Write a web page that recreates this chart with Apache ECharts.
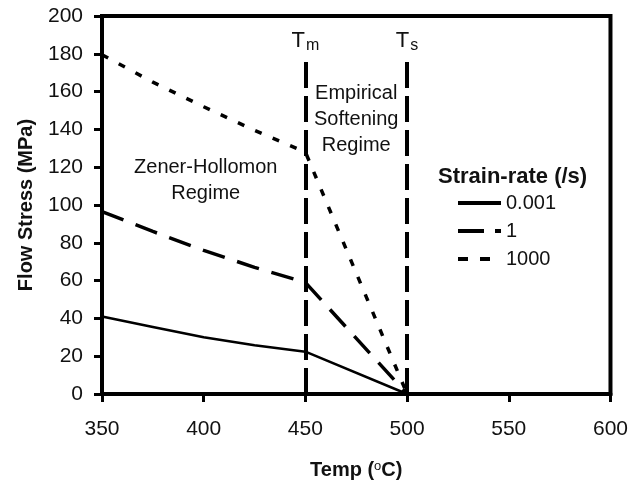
<!DOCTYPE html>
<html>
<head>
<meta charset="utf-8">
<title>Flow Stress vs Temperature</title>
<script src="https://cdn.jsdelivr.net/npm/echarts@6/dist/echarts.min.js"></script>
<style>
  html, body { margin: 0; padding: 0; background: #fff; }
  #chart { width: 631px; height: 486px; }
</style>
</head>
<body>
<div id="chart"></div>
<script>
// Temperatures (°C) at which flow stress is given
const temps = [350, 375, 400, 425, 450, 500];

// Flow stress (MPa) for each strain rate
const stressLow = [41, 35.5, 30, 25.8, 22.4, 0];      // 0.001 /s
const stressMid = [96.5, 86, 76, 67, 59, 0];          // 1 /s
const stressHigh = [179.5, 165, 152, 139.5, 128, 0];  // 1000 /s

const seriesNames = ['0.001', '1', '1000'];

// Legend key dash patterns (drawn heavier than the plotted lines)
const legendDash = ['solid', [26, 11], [10, 12]];

// Regime boundaries: Tm and Ts
const boundaryTemps = [450, 500];
const boundarySubs = ['m', 's'];
const boundaryTop = 178;

// Regime annotations (temperature, stress, text)
const regimeX = [401, 475];
const regimeY = [113, 145.5];
const regimeText = ['Zener-Hollomon\nRegime', 'Empirical\nSoftening\nRegime'];

const font = '"Liberation Sans", Arial, sans-serif';
const ink = '#111';

function pairs(xs, ys) {
  return xs.map((x, i) => [x, ys[i]]);
}

const boundaryLines = boundaryTemps.map((t, i) => [
  { coord: [t, 0] },
  { coord: [t, boundaryTop], label: { formatter: '{t|T}{s|' + boundarySubs[i] + '}' } }
]);

const chart = echarts.init(document.getElementById('chart'), null, { renderer: 'canvas' });

chart.setOption({
  animation: false,
  backgroundColor: '#fff',
  textStyle: { fontFamily: font },
  grid: {
    left: 102, right: 19, top: 16, bottom: 92,
    show: true, borderColor: '#000', borderWidth: 4, backgroundColor: 'transparent'
  },
  title: {
    text: 'Strain-rate (/s)',
    left: 433, top: 161,
    textStyle: { fontFamily: font, fontSize: 22, fontWeight: 'bold', color: ink }
  },
  legend: {
    data: seriesNames.map((n, i) => ({
      name: n,
      itemStyle: { opacity: 0 },
      lineStyle: { width: 4, color: '#000', type: legendDash[i] }
    })),
    orient: 'vertical',
    left: 451, top: 188,
    itemWidth: 43, itemHeight: 14, itemGap: 8,
    textStyle: { fontFamily: font, fontSize: 20, color: ink, lineHeight: 20 }
  },
  xAxis: {
    type: 'value',
    min: 350, max: 600, interval: 50,
    name: 'Temp ({sup|o}C)',
    nameLocation: 'middle',
    nameGap: 66,
    nameTextStyle: {
      fontFamily: font, fontSize: 20, fontWeight: 'bold', color: ink,
      rich: { sup: { fontSize: 13, fontWeight: 'normal', color: ink, verticalAlign: 'top', padding: [0, 0, 8, 0] } }
    },
    axisLine: { show: true, lineStyle: { color: '#000', width: 4 } },
    axisTick: { show: true, inside: false, length: 8, lineStyle: { color: '#000', width: 3 } },
    axisLabel: { fontFamily: font, fontSize: 21, color: ink, margin: 25 },
    splitLine: { show: false }
  },
  yAxis: {
    type: 'value',
    min: 0, max: 200, interval: 20,
    name: 'Flow Stress (MPa)',
    nameLocation: 'middle',
    nameGap: 66,
    nameTextStyle: { fontFamily: font, fontSize: 20, fontWeight: 'bold', color: ink },
    axisLine: { show: true, lineStyle: { color: '#000', width: 4 } },
    axisTick: { show: true, inside: false, length: 8, lineStyle: { color: '#000', width: 3 } },
    axisLabel: { fontFamily: font, fontSize: 21, color: ink, margin: 19 },
    splitLine: { show: false }
  },
  series: [
    {
      name: seriesNames[0],
      type: 'line',
      data: pairs(temps, stressLow),
      symbol: 'none',
      lineStyle: { color: '#000', width: 2.5, type: 'solid' },
      itemStyle: { color: '#000' },
      markLine: {
        silent: true,
        symbol: ['none', 'none'],
        lineStyle: { color: '#000', width: 4, type: [26, 8] },
        label: {
          show: true,
          position: 'end',
          distance: 4,
          color: ink,
          rich: {
            t: { fontFamily: font, fontSize: 22, color: ink },
            s: { fontFamily: font, fontSize: 16, color: ink, padding: [10, 0, 0, 1] }
          }
        },
        data: boundaryLines
      },
      z: 3
    },
    {
      name: seriesNames[1],
      type: 'line',
      data: pairs(temps, stressMid),
      symbol: 'none',
      lineStyle: { color: '#000', width: 3.5, type: [23, 13] },
      itemStyle: { color: '#000' },
      z: 3
    },
    {
      name: seriesNames[2],
      type: 'line',
      data: pairs(temps, stressHigh),
      symbol: 'none',
      lineStyle: { color: '#000', width: 3.5, type: [7, 12] },
      itemStyle: { color: '#000' },
      z: 3
    },
    {
      name: 'regimes',
      type: 'scatter',
      silent: true,
      symbolSize: 0,
      itemStyle: { opacity: 1 },
      data: regimeX.map((x, i) => [x, regimeY[i], regimeText[i]]),
      label: {
        show: true,
        position: 'inside',
        formatter: p => p.value[2],
        fontFamily: font,
        fontSize: 20,
        lineHeight: 26,
        color: ink,
        opacity: 1,
        align: 'center'
      },
      z: 4
    }
  ]
});
</script>
</body>
</html>
